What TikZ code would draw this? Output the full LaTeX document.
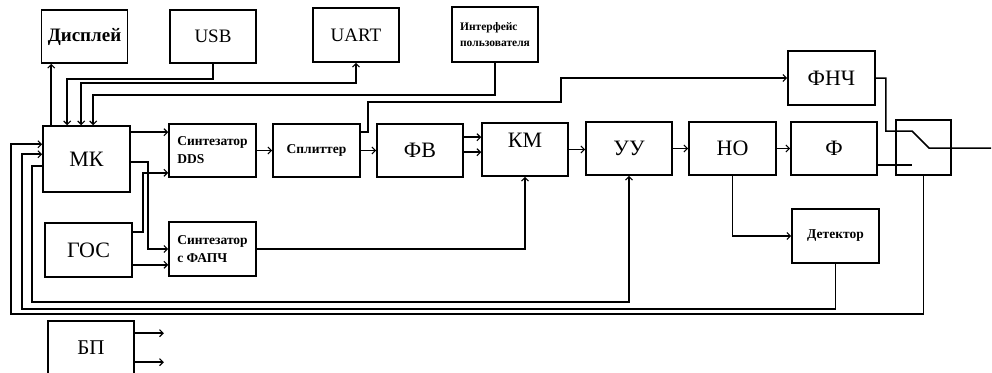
\documentclass[tikz,border=0pt]{standalone}
\usepackage{fontspec}
\setmainfont{Liberation Serif}
\usepackage{tikz}
\usetikzlibrary{arrows.meta,calc}
\tikzset{
  blk/.style={draw,line width=1.6pt,minimum width=86pt,minimum height=53pt,inner sep=1pt,
    font=\fontsize{22}{24}\selectfont},
  blkm/.style={blk,font=\fontsize{19}{21}\selectfont},
  blks/.style={blk,align=left,font=\bfseries\fontsize{13.5}{18}\selectfont},
  ln/.style={line width=1.5pt,line join=miter},
  arr/.style={ln,-{Straight Barb[length=3.5pt,width=7pt,line width=1.1pt]}},
  biarr/.style={ln,{Straight Barb[length=3.5pt,width=7pt,line width=1.1pt]}-{Straight Barb[length=3.5pt,width=7pt,line width=1.1pt]}},
}
\begin{document}
\begin{tikzpicture}[x=1pt,y=-1pt]
  \useasboundingbox (0,0) rectangle (992,372);
  % periferiya
  \node[blkm,font=\bfseries\fontsize{19}{21}\selectfont] (disp) at (84.5,36.5) {Дисплей};
  \node[blkm] (usb) at (213,36.5) {USB};
  \node[blkm,minimum height=54pt] (uart) at (356,35) {UART};
  \node[blks,minimum height=55pt,font=\bfseries\fontsize{11.5}{16}\selectfont] (ui) at (495,34.5) {Интерфейс\\пользователя};
  % osnovnoj tract
  \node[blk,minimum width=87pt,minimum height=66pt] (mk) at (86.5,159) {МК};
  \node[blks,minimum width=87pt] (dds) at (212.5,150.5) {Синтезатор\\DDS};
  \node[blks,minimum width=87pt] (spl) at (316.5,150.5) {Сплиттер};
  \node[blk] (fv) at (420,150.5) {ФВ};
  \node[blk,text depth=18pt] (km) at (525,149.5) {КМ};
  \node[blk] (uu) at (629,148.5) {УУ};
  \node[blk,minimum width=87pt] (no) at (732.5,148.5) {НО};
  \node[blk] (f) at (834,148.5) {Ф};
  \node[blk,minimum width=87pt,minimum height=54pt] (fnch) at (831.5,78) {ФНЧ};
  \node[draw,line width=1.6pt,minimum width=55pt,minimum height=55pt] (sw) at (923.5,147.5) {};
  \node[blks,minimum width=87pt,minimum height=54pt] (pll) at (212.5,249) {Синтезатор\\с ФАПЧ};
  \node[blk,minimum width=87pt,minimum height=54pt] (gos) at (88.5,250) {ГОС};
  \node[blk,minimum height=54pt,font=\fontsize{21}{23}\selectfont] (bp) at (91,348) {БП};
  \node[blks,minimum width=87pt,minimum height=54pt] (det) at (835.5,236) {Детектор};
  % kontakty kommutatora
  \coordinate (swup) at ($(sw.north west)+(17,12)$);
  \coordinate (swlo) at ([yshift=11pt]f.south east -| swup);
  \coordinate (swpiv) at ($(sw.north west)+(34,29)$);
  \coordinate (out) at ($(swpiv)+(62,0)$);
  \coordinate (bpa) at ($(bp.north east)+(29,13)$);
  \coordinate (bpb) at ($(bp.north east)+(29,42)$);

  % MK i periferiya
  \draw[arr] ([xshift=9pt]mk.north west) -- ([xshift=9pt]mk.north west |- disp.south);
  \draw[arr] (usb.south) -- ++(0,15) -| ([xshift=25pt]mk.north west);
  \draw[biarr] ([xshift=39pt]mk.north west) -- ++(0,-42) -| (uart.south);
  \draw[arr] (ui.south) -- ++(0,32) -| ([xshift=51pt]mk.north west);
  % sintezatory
  \draw[arr] ([yshift=-7pt]mk.north east) -- ([yshift=-7pt]mk.north east -| dds.west);
  \draw[arr] ([yshift=-37pt]mk.north east) -- ++(17,0) |- (pll.west);
  \draw[arr] ([yshift=-10pt]gos.north east) -- ++(10,0) |- ([yshift=5pt]dds.south west);
  \draw[arr] ([yshift=13pt]gos.south east) -- ([yshift=13pt]gos.south east -| pll.west);
  \draw[arr] (dds.east) -- (spl.west);
  \draw[arr] (spl.east) -- (fv.west);
  \draw[arr] ([yshift=-9pt]spl.north east) -- ++(7,0) -- ++(0,-30) -- ++(193,0) |- (fnch.west);
  \draw[arr] ([yshift=-14pt]fv.north east) -- ([yshift=-14pt]fv.north east -| km.west);
  \draw[arr] ([yshift=-29pt]fv.north east) -- ([yshift=-29pt]fv.north east -| km.west);
  \draw[arr] (pll.east) -| (km.south);
  \draw[arr] (km.east) -- (km.east -| uu.west);
  \draw[arr] (uu.east) -- (no.west);
  \draw[arr] (no.east) -- (f.west);
  \draw[arr] (no.south) |- (det.west);
  % kommutator
  \draw[ln] ([yshift=11pt]f.south east) -- (swlo);
  \draw[ln] (fnch.east) -- ++(10,0) |- (swup) -- (swpiv) -- (out);
  % obratnye svyazi
  \draw[arr] ([yshift=-41pt]mk.north west) -- ++(-10,0) -- ++(0,136) -| (uu.south);
  \draw[arr] (det.south) -- ++(0,45) -| ([xshift=-20pt,yshift=-29pt]mk.north west) -- ([yshift=-29pt]mk.north west);
  \draw[arr] (sw.south) -- ++(0,138) -| ([xshift=-31pt,yshift=-19pt]mk.north west) -- ([yshift=-19pt]mk.north west);
  % pitanie
  \draw[arr] ([yshift=-13pt]bp.north east) -- (bpa);
  \draw[arr] ([yshift=-42pt]bp.north east) -- (bpb);
\end{tikzpicture}
\end{document}
